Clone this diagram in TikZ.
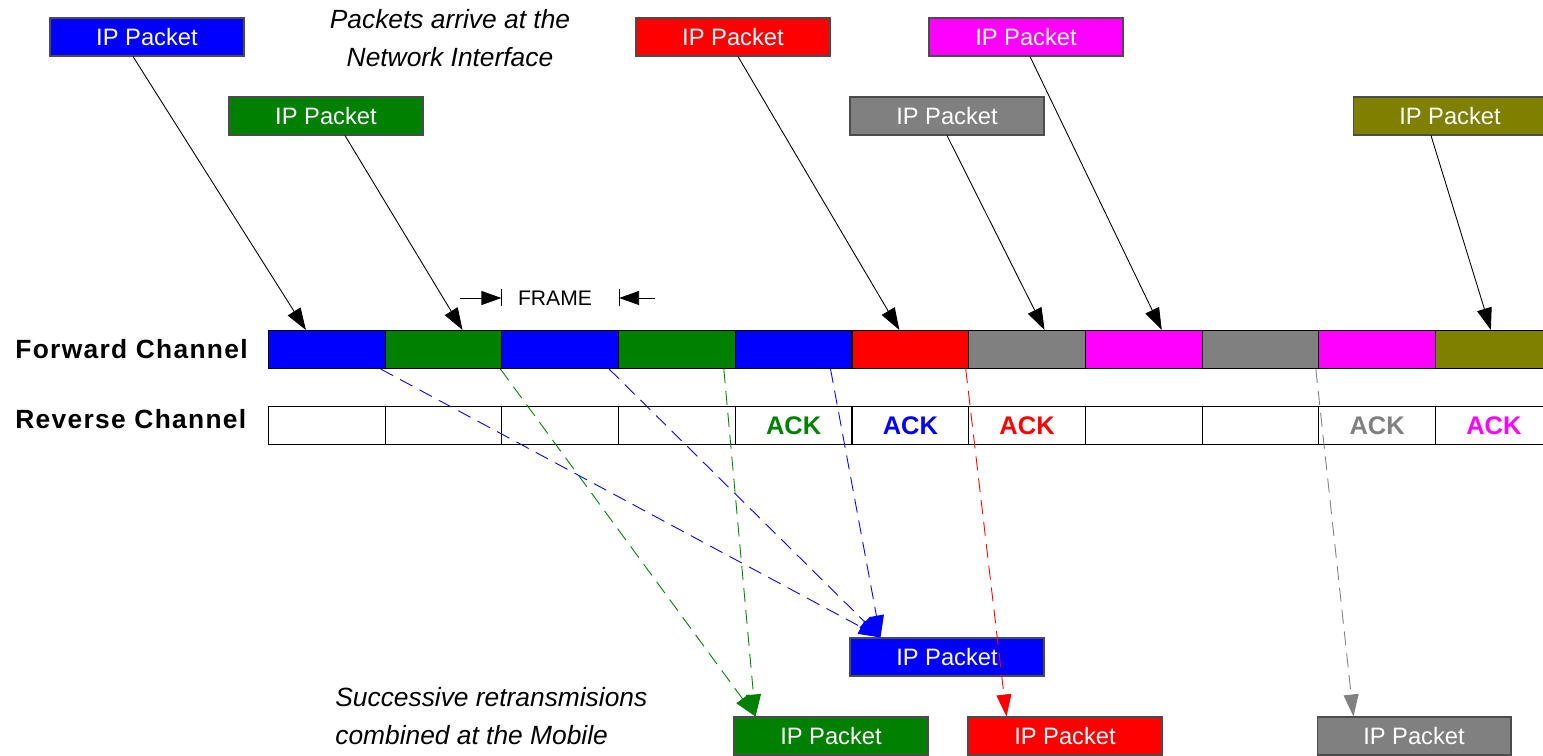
\documentclass[tikz,border=0pt]{standalone}
\usepackage{fontspec}
\setmainfont{Liberation Sans}
\newfontfamily\chanfont[LetterSpace=5]{Liberation Sans}
\usetikzlibrary{arrows.meta}
\definecolor{pblue}{RGB}{0,0,255}
\definecolor{pgreen}{RGB}{0,128,0}
\definecolor{pred}{RGB}{255,0,0}
\definecolor{pgray}{RGB}{128,128,128}
\definecolor{pmagenta}{RGB}{255,0,255}
\definecolor{polive}{RGB}{128,128,0}
\tikzstyle{packet}=[draw=black!70, line width=0.6pt, text=white, minimum width=3.88cm, minimum height=0.76cm, inner sep=0pt, font=\fontsize{13.5}{16}\selectfont]
\tikzstyle{slot}=[draw=black, line width=0.6pt, minimum width=2.334cm, minimum height=0.76cm, inner sep=0pt, anchor=north west]
\tikzstyle{ackslot}=[slot, font=\bfseries\fontsize{14.5}{16}\selectfont]
\tikzstyle{channel}=[anchor=west, inner sep=0pt, font=\chanfont\bfseries\fontsize{15}{17}\selectfont]
\tikzstyle{remark}=[inner sep=0pt, font=\itshape\fontsize{15}{21.5}\selectfont]
\tikzstyle{feed}=[line width=0.5pt, -{Triangle[length=0.44cm, width=0.3cm]}]
\tikzstyle{retx}=[line width=0.5pt, dash pattern=on 0.28cm off 0.16cm, -{Triangle[length=0.44cm, width=0.3cm]}]
\tikzstyle{dimtip}=[line width=0.5pt, -{Triangle[length=0.4cm, width=0.28cm]}]

\begin{document}
\begin{tikzpicture}[x=0.02cm, y=-0.02cm]
  \useasboundingbox (0,0) rectangle (1543,755);
  \clip (0,0) rectangle (1543,755);
  % forward and reverse channel slots
  \foreach \c [count=\i] in {pblue,pgreen,pblue,pgreen,pblue,pred,pgray,pmagenta,pgray,pmagenta,polive}
    \node[slot, fill=\c] (f\i) at ({268+116.7*(\i-1)},330) {};
  \foreach \t/\c [count=\i] in {{}/black,{}/black,{}/black,{}/black,ACK/pgreen,ACK/pblue,ACK/pred,{}/black,{}/black,ACK/pgray,ACK/pmagenta}
    \node[ackslot, fill=white, text=\c] (r\i) at ({268+116.7*(\i-1)},406) {\t};
  \node[channel] (fwdlabel) at (15,349) {Forward Channel};
  \node[channel] (revlabel) at (15,419) {Reverse Channel};

  % packets arriving at the network interface
  \node[packet, fill=pblue] (in1) at (147,37) {IP Packet};
  \node[packet, fill=pgreen] (in2) at (326,116) {IP Packet};
  \node[packet, fill=pred] (in3) at (733,37) {IP Packet};
  \node[packet, fill=pgray] (in4) at (947,116) {IP Packet};
  \node[packet, fill=pmagenta] (in5) at (1026,37) {IP Packet};
  \node[packet, fill=polive] (in6) at (1450,116) {IP Packet};
  \node[remark, align=center] (arrive) at (450,38) {Packets arrive at the\\Network Interface};

  % packets combined at the mobile
  \node[packet, fill=pblue] (out1) at (947,657) {IP Packet};
  \node[packet, fill=pgreen] (out2) at (831,736) {IP Packet};
  \node[packet, fill=pred] (out3) at (1065,736) {IP Packet};
  \node[packet, fill=pgray] (out4) at (1414,736) {IP Packet};
  \node[remark, align=left, anchor=west] (combine) at (335,716) {Successive retransmisions\\combined at the Mobile};

  % frame width
  \coordinate (frameA) at (460,298);
  \coordinate (frameB) at (655,298);
  \node[font=\fontsize{12}{14}\selectfont] (frame) at (555,298) {FRAME};
  \draw[dimtip] (frameA) -- (f3.north west |- frameA);
  \draw[dimtip] (frameB) -- (f3.north east |- frameB);
  \draw[line width=0.5pt] (f3.north west |- frameA) ++(0,-9) -- ++(0,17);
  \draw[line width=0.5pt] (f3.north east |- frameB) ++(0,-9) -- ++(0,17);

  \begin{scope}[every path/.style={feed}]
    \draw ([xshift=-0.28cm]in1.south) -- ([xshift=-0.42cm]f1.north);
    \draw ([xshift=0.38cm]in2.south) -- ([xshift=0.38cm]f2.north);
    \draw ([xshift=0.1cm]in3.south) -- ([xshift=-0.22cm]f6.north);
    \draw (in4.south) -- ([xshift=0.35cm]f7.north);
    \draw ([xshift=0.08cm]in5.south) -- ([xshift=0.36cm]f8.north);
    \draw ([xshift=-0.38cm]in6.south) -- ([xshift=-0.06cm]f11.north);
  \end{scope}

  \begin{scope}[every path/.style={retx}]
    \draw[pblue] ([xshift=-0.1cm]f1.south east) -- ([xshift=0.62cm]out1.north west);
    \draw[pblue] ([xshift=-0.2cm]f3.south east) -- ([xshift=0.62cm]out1.north west);
    \draw[pblue] ([xshift=-0.44cm]f5.south east) -- ([xshift=0.62cm]out1.north west);
    \draw[pgreen] ([xshift=-0.04cm]f2.south east) -- ([xshift=0.44cm]out2.north west);
    \draw[pgreen] ([xshift=-0.24cm]f4.south east) -- ([xshift=0.44cm]out2.north west);
    \draw[pred] ([xshift=-0.07cm]f6.south east) -- ([xshift=0.78cm]out3.north west);
    \draw[pgray] ([xshift=-0.07cm]f9.south east) -- ([xshift=0.74cm]out4.north west);
  \end{scope}
\end{tikzpicture}
\end{document}
